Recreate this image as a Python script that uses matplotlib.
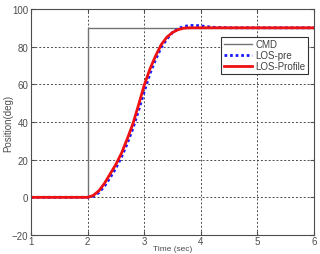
import numpy as np
import matplotlib.pyplot as plt

plt.rcParams["font.family"] = ["Liberation Sans", "DejaVu Sans"]

# ==================== 数据 ====================
cmd_t = [1.0, 2.0, 2.0, 6.0]
cmd_v = [0.0, 0.0, 90.0, 90.0]

prof_t = [1.0, 2.0, 2.1, 2.2, 2.3, 2.4, 2.5, 2.6, 2.7, 2.8, 2.9, 3.0,
          3.1, 3.2, 3.3, 3.4, 3.5, 3.6, 3.7, 3.8, 6.0]
prof_v = [0.0, 0.0, 1.0, 3.5, 7.5, 12.5, 17.5, 23.5, 31.0, 39.0, 49.0, 59.5,
          68.0, 75.0, 81.0, 85.0, 87.5, 89.0, 89.8, 90.0, 90.0]

pre_t = [1.0, 2.0, 2.1, 2.2, 2.3, 2.4, 2.5, 2.6, 2.7, 2.8, 2.9, 3.0,
         3.1, 3.2, 3.3, 3.4, 3.5, 3.6, 3.7, 3.8, 3.9, 4.0, 4.2, 4.5, 6.0]
pre_v = [0.0, 0.0, 0.5, 2.5, 6.0, 10.5, 15.5, 21.5, 28.5, 36.5, 46.0, 56.0,
         65.5, 73.0, 79.5, 84.0, 87.5, 89.5, 90.7, 91.2, 91.3, 91.0, 90.3, 90.0, 90.0]

xticks = [1, 2, 3, 4, 5, 6]
yticks = [-20, 0, 20, 40, 60, 80, 100]

# ==================== 绘图 ====================
fig = plt.figure(figsize=(3.2, 2.55), dpi=100)
ax = fig.add_axes([0.097, 0.0745, 0.884, 0.8865])

ax.plot(cmd_t, cmd_v, color="0.45", lw=1.0, label="CMD")
ax.plot(pre_t, pre_v, color="#1a1aff", lw=2.0, ls=(0, (1, 1)), label="LOS-pre")
ax.plot(prof_t, prof_v, color="#ee1111", lw=2.0, label="LOS-Profile")

ax.set_xlim(1, 6)
ax.set_ylim(-20, 100)
ax.set_xticks(xticks)
ax.set_yticks(yticks)
ax.grid(True, color="0.3", ls=(0, (2, 2)), lw=0.7)
ax.tick_params(direction="in", length=3, labelsize=7, colors="0.3",
               top=True, right=True, pad=2)
ax.tick_params(axis="x", pad=1)
for s in ax.spines.values():
    s.set_color("0.3")
    s.set_linewidth(0.8)

# 横轴标题贴近底边（原图中几乎被裁掉）
ax.set_xlabel("Time (sec)", fontsize=6, color="0.3")
ax.xaxis.set_label_coords(0.5, -0.043)
ax.xaxis.label.set_va("top")
ax.set_ylabel("Position(deg)", fontsize=7, color="0.3")
ax.yaxis.set_label_coords(-0.062, 0.5)

leg = ax.legend(loc="upper right", bbox_to_anchor=(0.98, 0.878), fontsize=7,
                frameon=True, fancybox=False, edgecolor="0.2", framealpha=1,
                borderpad=0.3, labelspacing=0.1, handlelength=2.9,
                handletextpad=0.3, borderaxespad=0)
leg.get_frame().set_linewidth(0.8)
for t in leg.get_texts():
    t.set_color("0.25")

fig.savefig("out.png", dpi=100)
